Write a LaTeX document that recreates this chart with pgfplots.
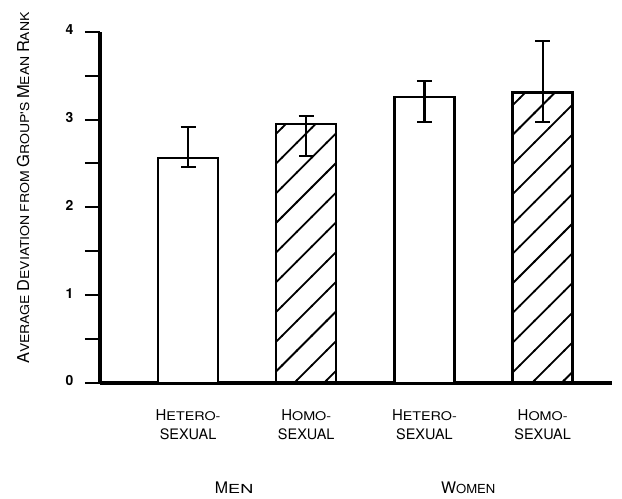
\documentclass[border=0pt]{standalone}
\usepackage{pgfplots}
\pgfplotsset{compat=1.18}
\usepackage{fontspec}
\setmainfont{TeX Gyre Heros}
\newfontfamily\wideA[FakeStretch=1.2]{TeX Gyre Heros}
\newfontfamily\wideM[FakeStretch=1.45]{TeX Gyre Heros}
\newfontfamily\wideW[FakeStretch=1.05]{TeX Gyre Heros}
\newfontfamily\wideC[FakeStretch=1.15]{TeX Gyre Heros}
\usetikzlibrary{patterns.meta}

\tikzdeclarepattern{
  name=widehatch,
  type=uncolored,
  bounding box={(-1bp,-2bp) and (22bp,2bp)},
  tile size={(21bp,21bp)},
  tile transformation={rotate=45},
  code={\draw[line width=1.8bp] (-1bp,0) -- (22bp,0);}
}

\newcommand{\scA}[2]{{\fontsize{15}{19}\selectfont #1}{\wideA\fontsize{12}{19}\selectfont #2}}
\newcommand{\scC}[2]{{\fontsize{16.5}{17}\selectfont #1}{\wideC\fontsize{12.2}{17}\selectfont #2}}

\begin{document}
\begin{tikzpicture}
\useasboundingbox (0,0) rectangle (622bp,499bp);
\begin{axis}[
  at={(100bp,116bp)}, anchor=south west,
  scale only axis,
  width=512bp, height=351.3bp,
  xmin=-0.745, xmax=3.587,
  ymin=0, ymax=4,
  axis lines=left,
  axis line style={-, line width=3.6bp},
  clip=false,
  ybar, bar width=60bp, bar shift=0pt,
  ytick={0,0.5,...,4},
  yticklabels={0,,1,,2,,3,,4},
  yticklabel style={font=\fontsize{14}{14}\selectfont\bfseries, xshift=-8bp, yshift=2bp},
  ytick style={line width=2bp, black},
  tick align=outside,
  major tick length=15bp,
  xtick={0,1,2,3},
  xticklabels={
    {\scA{H}{ETERO-}\\{\fontsize{14.5}{19}\selectfont SEXUAL}},
    {\scA{H}{OMO-}\\{\fontsize{14.5}{19}\selectfont SEXUAL}},
    {\scA{H}{ETERO-}\\{\fontsize{14.5}{19}\selectfont SEXUAL}},
    {\scA{H}{OMO-}\\{\fontsize{14.5}{19}\selectfont SEXUAL}}},
  xticklabel style={align=center, font=\fontsize{14.5}{19}\selectfont, yshift=-8bp},
  xtick style={draw=none},
]
\addplot[draw=black, line width=2.4bp, fill=white,
  error bars/.cd, y dir=both, y explicit,
  error bar style={line width=2.2bp},
  error mark options={rotate=90, line width=2.2bp, mark size=7.5bp}]
  coordinates {(0,2.563) += (0,0.355) -= (0,0.102) (2,3.254) += (0,0.186) -= (0,0.278)};
\addplot[draw=black, line width=2.4bp, pattern=widehatch, pattern color=black,
  error bars/.cd, y dir=both, y explicit,
  error bar style={line width=2.2bp},
  error mark options={rotate=90, line width=2.2bp, mark size=7.5bp}]
  coordinates {(1,2.946) += (0,0.094) -= (0,0.361) (3,3.307) += (0,0.588) -= (0,0.331)};
\node[anchor=base] at (axis cs:0.39,0) [yshift=-110bp] {{\fontsize{16}{18}\selectfont M}{\wideM\fontsize{12.5}{18}\selectfont EN}};
\node[anchor=base] at (axis cs:2.37,0) [yshift=-110bp] {{\fontsize{16}{18}\selectfont W}{\wideW\fontsize{12.5}{18}\selectfont OMEN}};
\end{axis}
\node[rotate=90, anchor=base, font=\fontsize{13}{17}\selectfont] at (29bp,311bp) {\scC{A}{VERAGE} \scC{D}{EVIATION} \scC{}{FROM} \scC{G}{ROUP'S} \scC{M}{EAN} \scC{R}{ANK}};
\end{tikzpicture}
\end{document}
